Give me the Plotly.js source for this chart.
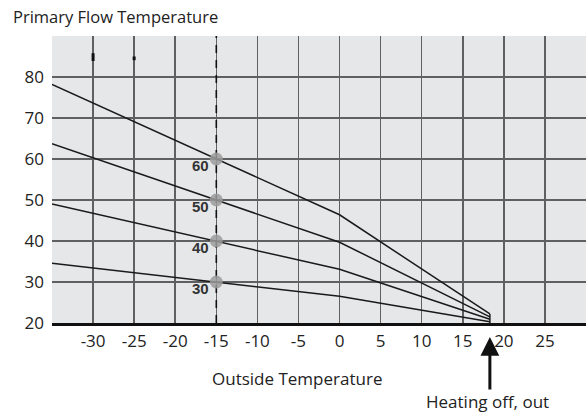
<!DOCTYPE html>
<html>
<head>
<meta charset="utf-8">
<script src="https://cdn.plot.ly/plotly-3.0.1.min.js"></script>
<style>html,body{margin:0;padding:0;background:#fff;}#chart{width:586px;height:414px;}</style>
</head>
<body>
<div id="chart"></div>
<script>
// Data
const outsideX = [-35, 0, 18.3];
const curve60 = [78.2, 46.4, 22.2];
const curve50 = [63.7, 39.7, 21.5];
const curve40 = [49.0, 33.1, 20.9];
const curve30 = [34.6, 26.5, 20.3];
const setpointX = -15;
const setpoints = [60, 50, 40, 30];
const setpointLabels = ['60', '50', '40', '30'];
const xTickVals = [-35, -30, -25, -20, -15, -10, -5, 0, 5, 10, 15, 20, 25, 30];
const xTickText = ['', '-30', '-25', '-20', '-15', '-10', '-5', '0', '5', '10', '15', '20', '25', ''];
const yTickVals = [20, 30, 40, 50, 60, 70, 80, 90];
const yTickText = ['20', '30', '40', '50', '60', '70', '80', ''];
const heatingOffX = 18.3;
// small dark marks on the gridlines near the top
const markX = [-30, -25];
const markY0 = [83.9, 84.1];
const markY1 = [85.8, 85.0];

const PL = 52, PW = 534, PT = 36, PH = 287; // plot box in px
const curves = [curve60, curve50, curve40, curve30];
const traces = curves.map(c => ({
  x: outsideX, y: c, mode: 'lines', type: 'scatter',
  line: {color: '#1a1a1a', width: 1.5}, hoverinfo: 'skip', showlegend: false
}));
traces.push({
  x: [heatingOffX, heatingOffX], y: [curve60[2], 20], mode: 'lines', type: 'scatter',
  line: {color: '#1a1a1a', width: 1.5}, showlegend: false, hoverinfo: 'skip'
});
traces.push({
  x: [setpointX, setpointX], y: [20, 90], mode: 'lines', type: 'scatter',
  line: {color: '#111', width: 1.6, dash: '8px,7px'}, showlegend: false, hoverinfo: 'skip'
});
traces.push({
  x: setpoints.map(() => setpointX), y: setpoints, mode: 'markers', type: 'scatter',
  marker: {color: 'rgba(155,155,155,0.85)', size: 13, line: {width: 0}}, showlegend: false, hoverinfo: 'skip'
});

const shapes = markX.map((x, i) => ({
  type: 'line', xref: 'x', yref: 'y', x0: x, x1: x, y0: markY0[i], y1: markY1[i],
  line: {color: '#111', width: 3}
}));

const annotations = setpoints.map((v, i) => ({
  x: setpointX, y: v, xref: 'x', yref: 'y', text: '<b>' + setpointLabels[i] + '</b>',
  showarrow: false, xshift: -16, yshift: -6,
  font: {family: 'Liberation Sans, Arial, sans-serif', size: 15, color: '#333'}
}));
annotations.push({
  x: heatingOffX, y: 20, xref: 'x', yref: 'y', text: '', showarrow: true,
  ax: 0, ay: 54, yshift: -14, arrowhead: 2, arrowsize: 1.25, arrowwidth: 3, arrowcolor: '#111'
});
annotations.push({
  x: (487.5 - PL) / PW, y: -(401.7 - PT - PH) / PH, xref: 'paper', yref: 'paper',
  text: 'Heating off, out', showarrow: false, xanchor: 'center', yanchor: 'middle',
  font: {family: 'Open Sans, sans-serif', size: 17, color: '#222'}
});
annotations.push({
  x: (297 - PL) / PW, y: -(378.5 - PT - PH) / PH, xref: 'paper', yref: 'paper',
  text: 'Outside Temperature', showarrow: false, xanchor: 'center', yanchor: 'middle',
  font: {family: 'Open Sans, sans-serif', size: 17, color: '#222'}
});

const layout = {
  width: 586, height: 414,
  margin: {l: PL, r: 0, t: PT, b: 414 - PT - PH, pad: 0},
  paper_bgcolor: '#ffffff', plot_bgcolor: '#e6e7e9',
  title: {text: 'Primary Flow Temperature', x: 13 / 586, xanchor: 'left', xref: 'container',
    y: 1 - 17 / 414, yanchor: 'middle', yref: 'container',
    font: {family: 'Open Sans, sans-serif', size: 16.5, color: '#222'}},
  xaxis: {range: [-35, 30], tickvals: xTickVals, ticktext: xTickText, showgrid: true,
    gridcolor: '#606060', gridwidth: 1.5, zeroline: false, showline: true, linecolor: '#111', linewidth: 3,
    ticks: '', ticklabelstandoff: 1,
    tickfont: {family: 'Open Sans, sans-serif', size: 17, color: '#222'}, fixedrange: true},
  yaxis: {range: [20, 90], tickvals: yTickVals, ticktext: yTickText, showgrid: true,
    gridcolor: '#606060', gridwidth: 1.5, zeroline: false, showline: false,
    ticks: '', ticklabelstandoff: 7,
    tickfont: {family: 'Open Sans, sans-serif', size: 17, color: '#222'}, fixedrange: true},
  shapes: shapes,
  annotations: annotations,
  showlegend: false
};

Plotly.newPlot('chart', traces, layout, {staticPlot: true, displayModeBar: false});
</script>
</body>
</html>
